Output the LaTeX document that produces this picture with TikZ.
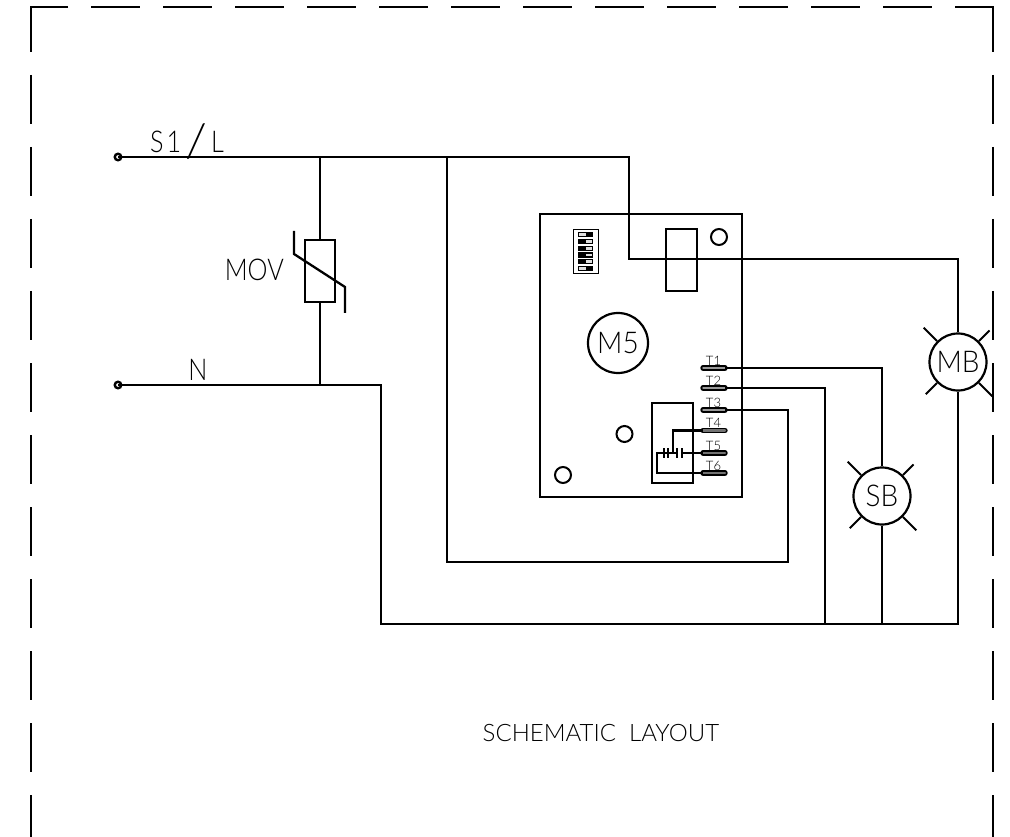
\documentclass[tikz,border=0pt]{standalone}
\usepackage{fontspec}
\usetikzlibrary{calc}
\newfontfamily\cad{Lato Light}
\newfontfamily\cadn[FakeStretch=.84]{Lato Light}
\newfontfamily\cadm[FakeStretch=.93]{Lato Light}
\tikzset{
  wire/.style={line width=2.3pt,line cap=butt,line join=miter},
  thin wire/.style={line width=1.8pt},
  frame/.style={line width=2.4pt,line cap=butt},
  part/.style={draw,line width=2.2pt},
  lamp/.style={circle,draw,line width=2.2pt,minimum size=57pt,inner sep=0pt,font=\cadm\fontsize{30}{30}\selectfont},
  hole/.style={circle,draw,line width=2pt,minimum size=16pt,inner sep=0pt},
  term/.style={circle,draw,line width=2.4pt,minimum size=6.5pt,inner sep=0pt},
  lab/.style={inner sep=0pt,font=\cadn\fontsize{30}{30}\selectfont},
  tlab/.style={inner sep=0pt,font=\cad\fontsize{13}{13}\selectfont},
  bar/.style={line width=5.4pt,line cap=round},
  barin/.style={line width=2.4pt,line cap=round,draw=black!55},
  barind/.style={line width=1.4pt,line cap=round,draw=black!40},
}
\begin{document}
\begin{tikzpicture}[x=1pt,y=-1pt]
\useasboundingbox (0,0) rectangle (1010,837);
% dashed frame
\draw[frame] (68,7) -- (31,7) -- (31,52);
\foreach \k in {0,...,11} \draw[frame] ({91+72*\k},7) -- ({140+72*\k},7);
\draw[frame] (955,7) -- (993,7) -- (993,52);
\foreach \k in {0,...,9} {
  \draw[frame] (31,{75+72*\k}) -- (31,{124+72*\k});
  \draw[frame] (993,{75+72*\k}) -- (993,{124+72*\k});
}
\draw[frame] (31,795) -- (31,837);
\draw[frame] (993,795) -- (993,837);
% board
\node[part,minimum width=202pt,minimum height=283pt,inner sep=0pt] (board) at (641,355.5) {};
\node[part,minimum width=31pt,minimum height=62pt,inner sep=0pt] (relay) at (681.5,260) {};
\node[hole] (h1) at (719,237) {};
\node[hole] (h2) at (624.5,434) {};
\node[hole] (h3) at (563,475) {};
\node[lamp,minimum size=60pt] (m5) at (618,343) {M5};
\node[part,minimum width=41pt,minimum height=80pt,inner sep=0pt] (inner) at (672.5,443) {};
% terminals
\foreach \n/\yy in {1/368,2/388,3/410}{
  \coordinate (a\n) at (703,\yy); \coordinate (b\n) at (725,\yy);
  \draw[bar] (a\n) -- (b\n);
  \draw[barind] (a\n) -- (b\n);
  \node[tlab,anchor=base] (t\n) at (713.5,{\yy-3}) {T\n};
}
\foreach \n/\yy in {4/430.5,5/453,6/473}{
  \coordinate (a\n) at (703,\yy); \coordinate (b\n) at (725,\yy);
  \draw[bar] (a\n) -- (b\n);
  \draw[barin] (a\n) -- (b\n);
  \node[tlab,anchor=base] (t\n) at (713.5,{\yy-3}) {T\n};
}
% input terminals
\node[term] (sl) at (118,157) {};
\node[term] (nn) at (118,385) {};
\node[lab,anchor=base west] (sllab) at (150,153) {S\kern3pt 1\kern4pt\raisebox{-5pt}{\scalebox{2.0}[1.55]{/}}\kern4pt L};
\node[lab,anchor=base] (nlab) at (198,380) {N};
\node[lab,anchor=base east] (movlab) at (284,281) {MOV};
% MOV
\node[part,minimum width=30pt,minimum height=62pt,inner sep=0pt] (mov) at (320,271) {};
\draw[wire] (294,231) -- (294,254) -- (345,287) -- (345,313);
% lamps
\node[lamp] (mb) at (958,362) {MB};
\node[lamp] (sb) at (882,496) {SB};
\foreach \l in {mb,sb}{
  \foreach \ang/\len in {45/15,135/19,225/16,315/19}
    \draw[thin wire] (\l.\ang) -- ($(\l.\ang)+({\len*cos(\ang)},{-\len*sin(\ang)})$);
}
% wires
\coordinate (j1) at (320,157);
\coordinate (j2) at (447,157);
\coordinate (j3) at (320,385);
\coordinate (bus) at (958,624);
\draw[wire] (sl.center) -- (629,157) -- (629,259) -- (958,259) -- (mb.north);
\draw[wire] (j1) -- (mov.north);
\draw[wire] (mov.south) -- (j3);
\draw[wire] (nn.center) -- (381,385) -- (381,624) -- (bus) -- (mb.south);
\draw[wire] (j2) -- (447,562) -- (788,562) -- (788,410) -- (b3);
\draw[wire] (b2) -- (825,388) -- (825,624);
\draw[wire] (b1) -- (882,368) -- (sb.north);
\draw[wire] (sb.south) -- (882,624);
% contacts
\draw[wire] (a4) -- (673,430.5) -- (673,453);
\draw[wire] (a6) -- (657,473) -- (657,453) -- (677,453);
\draw[wire] (682,453) -- (a5);
\foreach \xx in {664,668,677,682} \draw[line width=1.9pt] (\xx,448) -- (\xx,458);
% dip
\node[part,line width=1.7pt,minimum width=25pt,minimum height=44pt,inner sep=0pt] (dip) at (586,251.5) {};
\foreach \yy/\s in {234.3/1,241.7/0,248.3/0,255/0,261.7/0,268.3/1}{
  \fill (578,{\yy-2.7}) rectangle (592.5,{\yy+2.7});
  \ifnum\s=1 \fill[black!12] (579,{\yy-1.4}) rectangle (585.5,{\yy+1.4});
  \else \fill[black!12] (585.5,{\yy-1.4}) rectangle (591.5,{\yy+1.4}); \fi
}
\node[inner sep=0pt,font=\cad\fontsize{24}{24}\selectfont,anchor=base] (title) at (601,741) {SCHEMATIC\ \ LAYOUT};
\end{tikzpicture}
\end{document}
